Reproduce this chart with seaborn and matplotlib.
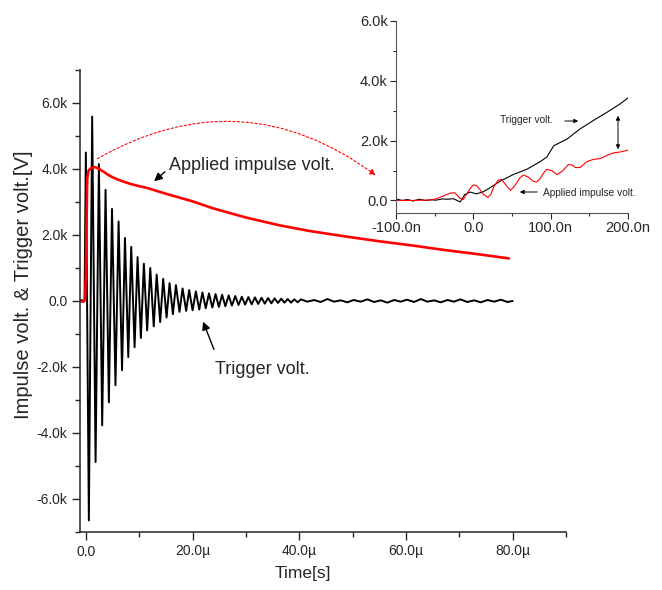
import matplotlib
matplotlib.use("Agg")
import matplotlib.pyplot as plt
from matplotlib.patches import FancyArrowPatch
from matplotlib.ticker import FuncFormatter, MultipleLocator
import pandas as pd
import seaborn as sns

# ---- main record: trigger voltage (time in µs, voltage in kV) ----
trig_t_us = [-1.1, -0.8, -0.5, -0.25,
             0.0, 0.56, 1.18, 1.82, 2.44, 3.06, 3.69, 4.31, 4.90, 5.55,
             6.13, 6.78, 7.33, 7.95, 8.50, 9.13, 9.69, 10.31, 10.87, 11.49,
             12.07, 12.72, 13.27, 13.93, 14.49, 15.13, 15.69, 16.31, 16.88, 17.55,
             18.13, 18.80, 19.36, 20.00, 20.62, 21.25, 21.85, 22.47, 23.08, 23.70,
             24.31, 24.93, 25.54, 26.15, 26.77, 27.38, 28.00, 28.62, 29.23, 29.85,
             30.46, 31.08, 31.69, 32.30, 32.92, 33.54, 34.15, 34.77, 35.38, 36.00,
             36.61, 37.23, 37.84, 38.46, 39.07, 39.70, 40.30,
             41.5, 42.8, 44.0, 45.3, 46.5, 47.8, 49.0, 50.2, 51.5, 52.8, 54.0,
             55.3, 56.5, 57.8, 59.0, 60.2, 61.5, 62.8, 64.0, 65.3, 66.5, 67.8,
             69.0, 70.2, 71.5, 72.8, 74.0, 75.3, 76.5, 77.8, 79.0, 80.0]
trig_kv = [0.0, 0.03, -0.02, 0.02,
           4.50, -6.65, 5.59, -4.88, 4.15, -3.77, 3.37, -3.07, 2.79, -2.55,
           2.41, -2.10, 1.91, -1.70, 1.64, -1.40, 1.33, -1.12, 1.13, -0.89,
           1.00, -0.77, 0.80, -0.64, 0.67, -0.50, 0.54, -0.40, 0.48, -0.33,
           0.38, -0.30, 0.33, -0.28, 0.29, -0.26, 0.26, -0.22, 0.23, -0.20,
           0.21, -0.18, 0.19, -0.16, 0.17, -0.14, 0.15, -0.12, 0.13, -0.11,
           0.12, -0.10, 0.11, -0.09, 0.10, -0.08, 0.09, -0.07, 0.08, -0.06,
           0.07, -0.05, 0.06, -0.05, 0.05, -0.04, 0.05,
           -0.02, 0.03, -0.03, 0.06, -0.02, 0.02, -0.04, 0.03, -0.02, 0.05, -0.03,
           0.02, -0.05, 0.03, -0.02, 0.04, -0.03, 0.06, -0.02, 0.02, -0.04, 0.03,
           -0.02, 0.05, -0.03, 0.02, -0.04, 0.03, -0.02, 0.04, -0.03, 0.0]

# ---- main record: applied impulse voltage ----
imp_t_us = [-1.1, -0.6, -0.3, -0.15, 0.0, 0.25, 0.5, 1.0, 1.5, 2.0, 2.5, 3.0,
            3.5, 4.0, 5.0, 6.0, 7.0, 8.5, 10.0, 11.4, 15.0, 20.0, 23.8, 30.0,
            36.4, 42.0, 48.9, 55.0, 61.3, 67.0, 73.9, 79.3]
imp_kv = [0.0, -0.02, 0.0, 0.05, 0.8, 3.70, 3.95, 4.03, 4.06, 4.04, 4.00, 3.95,
          3.90, 3.84, 3.75, 3.68, 3.62, 3.54, 3.48, 3.43, 3.25, 3.02, 2.81, 2.53,
          2.29, 2.12, 1.95, 1.81, 1.68, 1.55, 1.41, 1.29]

# ---- inset: rising edge (time in ns, voltage in kV) ----
in_trig_t_ns = [-100, -92, -85, -78, -70, -62, -55, -48, -40, -33, -26, -17,
                -11, -4, 4, 13, 22, 35, 52, 69, 86, 95, 104, 121, 138, 155, 173, 190, 200]
in_trig_kv = [0.05, 0.0, 0.03, -0.02, 0.04, 0.0, 0.02, 0.01, 0.05, 0.04, 0.06, -0.05,
              0.20, 0.28, 0.22, 0.29, 0.43, 0.65, 0.87, 1.04, 1.29, 1.45, 1.83, 2.05,
              2.39, 2.67, 2.95, 3.23, 3.43]
in_imp_t_ns = [-100, -80, -60, -48, -39, -30, -24, -17, -13, -9, -4, 0, 4, 9, 13, 19,
               23, 26, 32, 36, 39, 44, 48, 54, 60, 65, 71, 78, 82, 86, 91, 95,
               102, 108, 115, 123, 128, 132, 138, 147, 155, 164, 173, 181, 190, 200]
in_imp_kv = [0.0, 0.0, 0.01, 0.05, 0.15, 0.24, 0.26, 0.07, 0.03, 0.20, 0.40, 0.52, 0.50,
             0.35, 0.20, 0.10, 0.22, 0.43, 0.68, 0.70, 0.62, 0.45, 0.34, 0.50, 0.75,
             0.85, 0.78, 0.63, 0.62, 0.72, 0.92, 1.04, 0.99, 0.86, 0.98, 1.20, 1.18,
             1.10, 1.10, 1.30, 1.37, 1.40, 1.51, 1.59, 1.62, 1.68]

sns.set_style("ticks")
plt.rcParams["font.family"] = ["Liberation Sans", "DejaVu Sans"]

W, H = 662, 590
fig = plt.figure(figsize=(W / 100, H / 100), dpi=100)


def fx(px):
    return px / W


def fy(py):
    return 1 - py / H


ax = fig.add_axes([fx(80), fy(532), fx(566) - fx(80), fy(70) - fy(532)])

main_trig = pd.DataFrame({"t": trig_t_us, "v": trig_kv})
main_imp = pd.DataFrame({"t": imp_t_us, "v": imp_kv})
sns.lineplot(data=main_trig, x="t", y="v", ax=ax, color="black", lw=1.4,
             sort=False, estimator=None)
sns.lineplot(data=main_imp, x="t", y="v", ax=ax, color="red", lw=1.9,
             sort=False, estimator=None)

ax.set_xlim(-1.1, 90)
ax.set_ylim(-7, 7)
ax.xaxis.set_major_locator(MultipleLocator(20))
ax.xaxis.set_minor_locator(MultipleLocator(10))
ax.yaxis.set_major_locator(MultipleLocator(2))
ax.yaxis.set_minor_locator(MultipleLocator(1))
ax.xaxis.set_major_formatter(FuncFormatter(lambda v, p: "0.0" if abs(v) < 1e-9 else f"{v:.1f}µ"))
ax.yaxis.set_major_formatter(FuncFormatter(lambda v, p: "0.0" if abs(v) < 1e-9 else f"{v:.1f}k"))
ax.tick_params(which="major", length=6, width=1, direction="out", labelsize=10, pad=3)
ax.tick_params(which="minor", length=3.5, width=1, direction="out")
sns.despine(ax=ax)
for s in ("left", "bottom"):
    ax.spines[s].set_linewidth(1.1)
ax.set_xlabel("Time[s]", fontsize=12.5)
ax.set_ylabel("Impulse volt. & Trigger volt.[V]", fontsize=14.5)
ax.xaxis.set_label_coords(0.459, -0.073)
ax.yaxis.set_label_coords(-0.097, 0.535)

# ---- inset ----
ins = fig.add_axes([fx(396), fy(213), fx(628) - fx(396), fy(21) - fy(213)])
ins_trig = pd.DataFrame({"t": in_trig_t_ns, "v": in_trig_kv})
ins_imp = pd.DataFrame({"t": in_imp_t_ns, "v": in_imp_kv})
sns.lineplot(data=ins_trig, x="t", y="v", ax=ins, color="black", lw=0.8,
             sort=False, estimator=None)
sns.lineplot(data=ins_imp, x="t", y="v", ax=ins, color="red", lw=0.8,
             sort=False, estimator=None)
ins.set_xlim(-100, 200)
ins.set_ylim(-0.42, 6.0)
ins.xaxis.set_major_locator(MultipleLocator(100))
ins.xaxis.set_minor_locator(MultipleLocator(50))
ins.yaxis.set_major_locator(MultipleLocator(2))
ins.yaxis.set_minor_locator(MultipleLocator(1))
ins.xaxis.set_major_formatter(FuncFormatter(lambda v, p: "0.0" if abs(v) < 1e-9 else f"{v:.1f}n"))
ins.yaxis.set_major_formatter(FuncFormatter(lambda v, p: "0.0" if abs(v) < 1e-9 else f"{v:.1f}k"))
ins.tick_params(which="major", length=4, width=0.8, direction="out", labelsize=10.5, pad=2)
ins.tick_params(which="minor", length=2.5, width=0.8, direction="out")
ins.set_xlabel("")
ins.set_ylabel("")
ins.set_facecolor("white")
sns.despine(ax=ins)
for s in ("left", "bottom"):
    ins.spines[s].set_linewidth(0.8)
    ins.spines[s].set_color("#555555")

# ---- annotations on the main plot ----
fig.text(fx(169), fy(166), "Applied impulse volt.", fontsize=13, va="center", ha="left")
fig.add_artist(FancyArrowPatch((fx(167), fy(170)), (fx(152), fy(183)),
                               transform=fig.transFigure, arrowstyle="-|>",
                               mutation_scale=12, lw=1.0, color="black"))
fig.text(fx(215), fy(370), "Trigger volt.", fontsize=13, va="center", ha="left")
fig.add_artist(FancyArrowPatch((fx(215), fy(352)), (fx(202), fy(319)),
                               transform=fig.transFigure, arrowstyle="-|>",
                               mutation_scale=12, lw=1.0, color="black"))

# dotted pointer from the impulse peak to the inset
fig.add_artist(FancyArrowPatch((fx(95), fy(160)), (fx(378), fy(177)),
                               transform=fig.transFigure,
                               connectionstyle="arc3,rad=-0.33",
                               arrowstyle="-|>", mutation_scale=9, lw=0.8,
                               linestyle=(0, (2, 2)), color="red"))

# ---- annotations inside the inset ----
fig.text(fx(527), fy(120), "Trigger volt.", fontsize=7.3, va="center", ha="center")
fig.add_artist(FancyArrowPatch((fx(562), fy(121)), (fx(581), fy(121)),
                               transform=fig.transFigure, arrowstyle="-|>",
                               mutation_scale=6, lw=0.7, color="black"))
fig.text(fx(543), fy(193), "Applied impulse volt.", fontsize=7.3, va="center", ha="left")
fig.add_artist(FancyArrowPatch((fx(540), fy(192)), (fx(517), fy(192)),
                               transform=fig.transFigure, arrowstyle="-|>",
                               mutation_scale=6, lw=0.7, color="black"))
fig.add_artist(FancyArrowPatch((fx(618), fy(113)), (fx(618), fy(152)),
                               transform=fig.transFigure, arrowstyle="<|-|>",
                               mutation_scale=6, lw=0.7, color="black"))

fig.savefig("out.png", dpi=100)
